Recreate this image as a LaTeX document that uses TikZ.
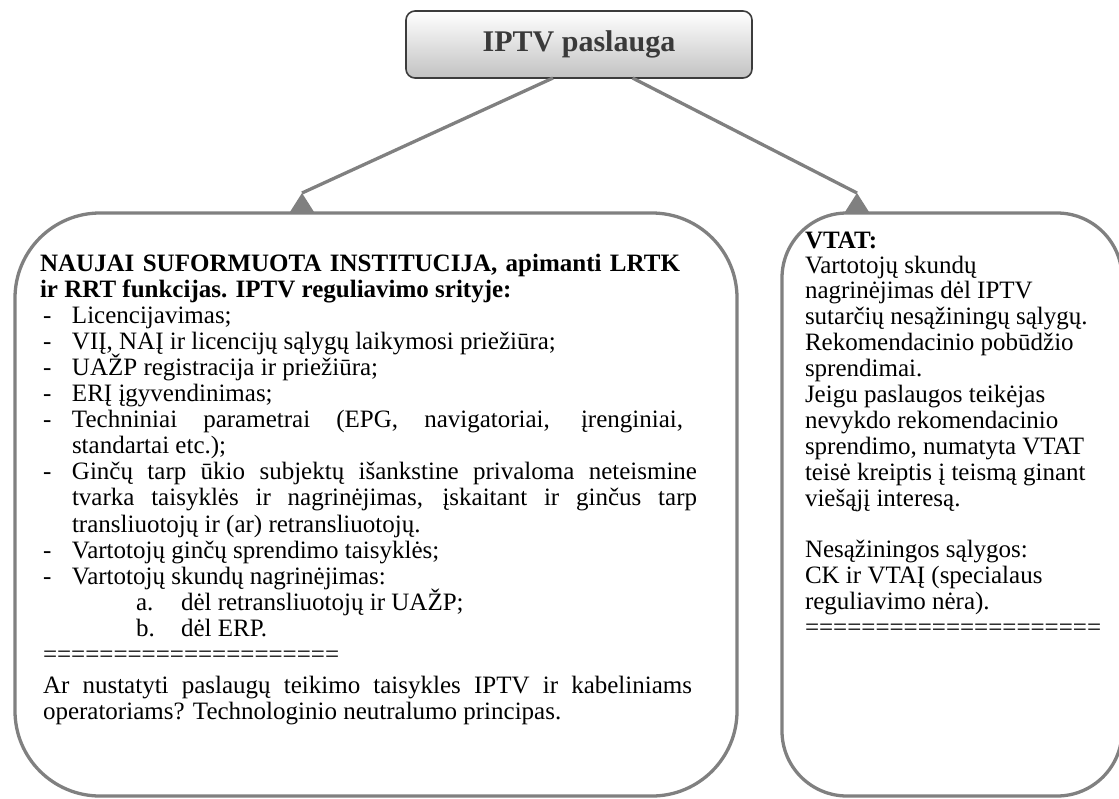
\documentclass[tikz,border=0pt]{standalone}
\usepackage{fontspec}
\setmainfont{Liberation Serif}
\definecolor{boxgray}{HTML}{808080}
\definecolor{topborder}{HTML}{3C3C3C}
\definecolor{topshade}{HTML}{C2C2C2}
\definecolor{titlegray}{HTML}{3A3A3A}
\newcommand\dashitem{\makebox[29pt][l]{-}}
\newcommand\jl[2]{\makebox[#1][s]{#2}}
\begin{document}
\begin{tikzpicture}[x=1pt,y=-1pt,
  every node/.style={inner sep=0pt,outer sep=0pt},
  txt/.style={anchor=base west,font=\fontsize{25}{26}\selectfont},
  btxt/.style={anchor=base west,font=\fontsize{25}{26}\selectfont\bfseries},
  panel/.style={draw=boxgray,line width=3.3pt},
  conn/.style={draw=boxgray,line width=3.3pt},
  tipfill/.style={fill=boxgray}
]
\useasboundingbox (0,0) rectangle (1119,798);
% panels
\node[panel,rounded corners=85pt,minimum width=722pt,minimum height=583pt] (lbox) at (376,504.5) {};
\node[panel,rounded corners=65pt,minimum width=340pt,minimum height=583pt] (rbox) at (952,504.5) {};
% top box
\node[draw=topborder,line width=1.6pt,rounded corners=9pt,minimum width=346pt,minimum height=67pt,
  top color=white,bottom color=topshade,text=titlegray,font=\fontsize{30}{36}\selectfont\bfseries] (top) at (579,44.5) {IPTV paslauga};
% connectors
\coordinate (ltip) at (302,193);
\coordinate (rtip) at (857,193);
\draw[conn] ([xshift=-26pt]top.south) -- (ltip);
\draw[conn] ([xshift=53.5pt]top.south) -- (rtip);
\fill[tipfill] (ltip) -- ++(13,20.5) -- ++(-26,0) -- cycle;
\fill[tipfill] (rtip) -- ++(13,20.5) -- ++(-26,0) -- cycle;
% left text
\node[btxt] (l0) at (40,271) {\jl{640pt}{NAUJAI SUFORMUOTA INSTITUCIJA, apimanti LRTK}};
\node[btxt] (l1) at (40,297.1) {ir RRT funkcijas. IPTV reguliavimo srityje:};
\node[txt] (l2) at (43,323.2) {\dashitem Licencijavimas;};
\node[txt] (l3) at (43,349.3) {\dashitem VIĮ, NAĮ ir licencijų sąlygų laikymosi priežiūra;};
\node[txt] (l4) at (43,375.4) {\dashitem UAŽP registracija ir priežiūra;};
\node[txt] (l5) at (43,401.5) {\dashitem ERĮ įgyvendinimas;};
\node[txt] (l6) at (43,427.6) {\dashitem\jl{611pt}{Techniniai parametrai (EPG, navigatoriai, įrenginiai,}};
\node[txt] (l7) at (72,453.7) {standartai etc.);};
\node[txt] (l8) at (43,479.8) {\dashitem\jl{625pt}{Ginčų tarp ūkio subjektų išankstine privaloma neteismine}};
\node[txt] (l9) at (72,505.9) {\jl{625pt}{tvarka taisyklės ir nagrinėjimas, įskaitant ir ginčus tarp}};
\node[txt] (l10) at (72,532) {transliuotojų ir (ar) retransliuotojų.};
\node[txt] (l11) at (43,558.1) {\dashitem Vartotojų ginčų sprendimo taisyklės;};
\node[txt] (l12) at (43,584.2) {\dashitem Vartotojų skundų nagrinėjimas:};
\node[txt] (l13) at (136,610.3) {\makebox[45pt][l]{a.}dėl retransliuotojų ir UAŽP;};
\node[txt] (l14) at (136,636.4) {\makebox[45pt][l]{b.}dėl ERP.};
\node[txt] (l15) at (43,662.5) {=====================};
\node[txt] (l16) at (43,693.6) {\jl{649pt}{Ar nustatyti paslaugų teikimo taisykles IPTV ir kabeliniams}};
\node[txt] (l17) at (43,719.7) {operatoriams? Technologinio neutralumo principas.};
% right text
\node[btxt] (r0) at (805,248) {VTAT:};
\node[txt] (r1) at (805,273) {Vartotojų skundų};
\node[txt] (r2) at (805,298.9) {nagrinėjimas dėl IPTV};
\node[txt] (r3) at (805,324.8) {sutarčių nesąžiningų sąlygų.};
\node[txt] (r4) at (805,350.7) {Rekomendacinio pobūdžio};
\node[txt] (r5) at (805,376.6) {sprendimai.};
\node[txt] (r6) at (805,402.5) {Jeigu paslaugos teikėjas};
\node[txt] (r7) at (805,428.4) {nevykdo rekomendacinio};
\node[txt] (r8) at (805,454.3) {sprendimo, numatyta VTAT};
\node[txt] (r9) at (805,480.2) {teisė kreiptis į teismą ginant};
\node[txt] (r10) at (805,506.1) {viešąjį interesą.};
\node[txt] (r12) at (805,557.9) {Nesąžiningos sąlygos:};
\node[txt] (r13) at (805,583.8) {CK ir VTAĮ (specialaus};
\node[txt] (r14) at (805,609.7) {reguliavimo nėra).};
\node[txt] (r15) at (805,635.6) {=====================};
\end{tikzpicture}
\end{document}
